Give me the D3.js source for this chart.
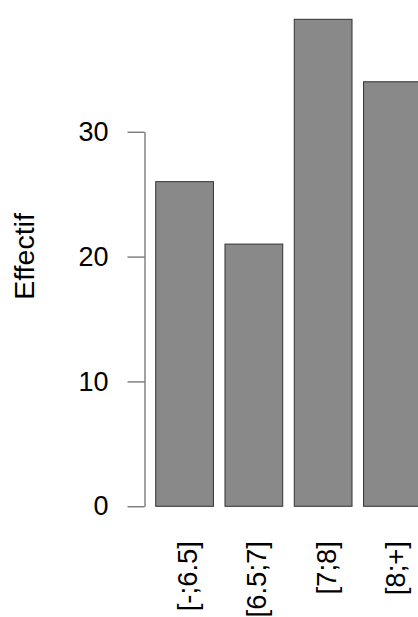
<!DOCTYPE html>
<html>
<head>
<meta charset="utf-8">
<script src="https://cdn.jsdelivr.net/npm/d3@7"></script>
<style>
  body { margin: 0; background: #fff; }
  svg { display: block; font-family: "Liberation Sans", Arial, sans-serif; }
</style>
</head>
<body>
<script>
// classes de notes et effectifs
let classes = ['[-;6.5]', '[6.5;7]', '[7;8]', '[8;+]']
let effectifs = [26, 21, 39, 34]
let yTicks = [0, 10, 20, 30]
let yTitle = 'Effectif'

let W = 418
let H = 617
let tickFont = 27
let classFont = 27.5
let titleFont = 28.5

let svg = d3.select('body')
  .append('svg')
  .attr('width', W)
  .attr('height', H)

// y : 0 en bas (506.3), 30 en haut (131.7)
let yScale = d3.scaleLinear()
  .domain([0, 30])
  .range([506.3, 131.7])

// x : barres de largeur w, espace 0.2w comme barplot()
let xScale = d3.scaleBand()
  .domain(classes)
  .range([155.7, 421.3])
  .paddingInner(1 / 6)
  .paddingOuter(0)

// barres
svg.selectAll('rect.bar')
  .data(effectifs)
  .enter()
  .append('rect')
  .attr('class', 'bar')
  .attr('x', (d, i) => xScale(classes[i]))
  .attr('y', (d) => yScale(d))
  .attr('width', xScale.bandwidth())
  .attr('height', (d) => yScale(0) - yScale(d))
  .attr('fill', '#898989')
  .attr('stroke', '#333')
  .attr('stroke-width', 1)

// axe y
let yAxis = d3.axisLeft(yScale)
  .tickValues(yTicks)
  .tickSize(17)
  .tickPadding(19)
  .tickSizeOuter(0)

let gy = svg.append('g')
  .attr('transform', 'translate(144.5,0)')
  .call(yAxis)
gy.select('.domain').attr('stroke', '#444')
gy.selectAll('.tick line').attr('stroke', '#444')
gy.selectAll('.tick text')
  .attr('font-size', tickFont)
  .attr('fill', '#000')
  .attr('font-family', '"Liberation Sans", Arial, sans-serif')

// libellés des classes, verticaux
svg.selectAll('text.cls')
  .data(classes)
  .enter()
  .append('text')
  .attr('class', 'cls')
  .attr('transform', (d) => 'translate(' + (xScale(d) + xScale.bandwidth() / 2 + 3) + ',541) rotate(-90)')
  .attr('text-anchor', 'end')
  .attr('dy', '0.35em')
  .attr('font-size', classFont)
  .attr('fill', '#000')
  .text((d) => d)

// titre de l'axe y
svg.append('text')
  .attr('transform', 'translate(24,256.5) rotate(-90)')
  .attr('text-anchor', 'middle')
  .attr('dy', '0.35em')
  .attr('font-size', titleFont)
  .attr('fill', '#000')
  .text(yTitle)
</script>
</body>
</html>
